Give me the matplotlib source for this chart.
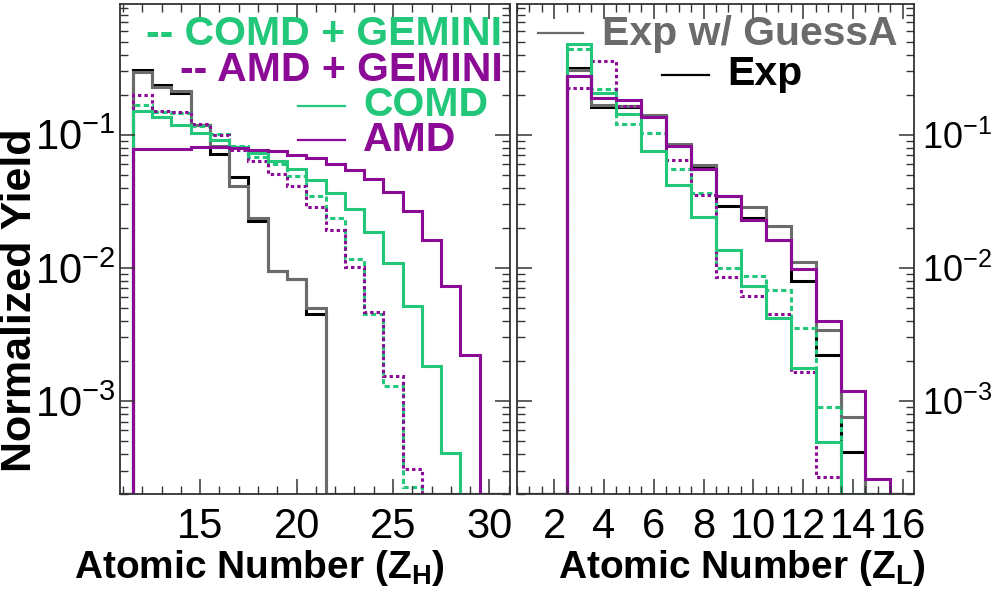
import numpy as np
import matplotlib
matplotlib.use("Agg")
import matplotlib.pyplot as plt
from matplotlib.ticker import MultipleLocator, LogLocator, NullFormatter

plt.rcParams['font.family'] = ['Liberation Sans', 'DejaVu Sans']
plt.rcParams['mathtext.fontset'] = 'custom'
plt.rcParams['mathtext.rm'] = 'Liberation Sans'
plt.rcParams['mathtext.bf'] = 'Liberation Sans:bold'
plt.rcParams['mathtext.default'] = 'regular'

# heavy fragment, Z_H = 11..31 (one bin per charge)
zh = np.arange(11, 32)
exp_h = [0, .307, .237, .205, .119, .0716, .0484, .0226, .0095, .0082, .00454,
         0, 0, 0, 0, 0, 0, 0, 0, 0, 0]
guess_h = [0, .295, .228, .213, .119, .0818, .041, .0235, .0095, .0082, .0050,
           0, 0, 0, 0, 0, 0, 0, 0, 0, 0]
comd_h = [0, .150, .135, .1175, .103, .0917, .0804, .0735, .0638, .0550, .0458,
          .0367, .0277, .0185, .0109, .0052, .00183, .00041, 0, 0, 0]
amd_h = [0, .078, .078, .078, .0815, .0815, .0795, .077, .075, .0708, .067,
         .0603, .054, .0466, .0369, .0266, .0163, .00736, .0022, 0, 0]
comd_gem_h = [0, .168, .149, .146, .117, .101, .082, .068, .0603, .0487, .0345,
              .0237, .0117, .00447, .00129, .000224, 0, 0, 0, 0, 0]
amd_gem_h = [0, .200, .151, .148, .120, .100, .0772, .063, .0507, .041, .0287,
             .0191, .0101, .00468, .00154, .000307, 0, 0, 0, 0, 0]

# light fragment, Z_L = 1..16
zl = np.arange(1, 17)
exp_l = [0, 0, .316, .161, .161, .138, .083, .0578, .0293, .0237, .0163,
         .00803, .00221, .000417, 0, 0]
guess_l = [0, 0, .307, .168, .165, .141, .085, .0588, .0344, .0287, .0205,
           .01115, .00339, .000762, 0, 0]
amd_l = [0, 0, .277, .1885, .181, .1358, .0827, .0553, .0344, .0230, .0163,
         .00983, .00402, .00118, .000258, 0]
amd_gem_l = [0, 0, .2263, .3608, .165, .137, .0649, .0350, .00856, .00612,
             .00452, .001647, .000270, 0, 0, 0]
comd_l = [0, 0, .4817, .2076, .1437, .0759, .0422, .0240, .01372, .00736,
          .00422, .001756, .000492, 0, 0, 0]
comd_gem_l = [0, 0, .4417, .2214, .1203, .103, .0556, .0365, .0100, .00875,
              .00687, .00355, .000906, 0, 0, 0]

GREEN = '#22c77a'
PURPLE = '#8b0a96'
GRAY = '#6b6b6b'
YMIN, YMAX = 2.0e-4, 0.96

fig = plt.figure(figsize=(10, 5.95), dpi=100)
axL = fig.add_axes([0.120, 1 - 494 / 595, 0.390, 490 / 595])
axR = fig.add_axes([0.5167, 1 - 494 / 595, 0.3973, 490 / 595])


def hist(ax, z, vals, color, ls='-', lw=2.2):
    edges = np.append(z - 0.5, z[-1] + 0.5)
    v = np.maximum(np.asarray(vals, float), YMIN)   # empty bins sit on the floor
    ax.stairs(v, edges, baseline=None, color=color, linestyle=ls, linewidth=lw)


dash_g = (0, (1.7, 1.1))
dash_p = (0, (1.1, 1.0))

for ax, z, data in [
        (axL, zh, (amd_h, comd_h, comd_gem_h, amd_gem_h, guess_h, exp_h)),
        (axR, zl, (amd_l, comd_l, comd_gem_l, amd_gem_l, guess_l, exp_l))]:
    amd, comd, cg, ag, gs, ex = data
    hist(ax, z, ex, 'black')
    hist(ax, z, gs, GRAY)
    hist(ax, z, cg, GREEN, dash_g)
    hist(ax, z, ag, PURPLE, dash_p)
    hist(ax, z, comd, GREEN)
    hist(ax, z, amd, PURPLE)

for ax in (axL, axR):
    ax.set_yscale('log')
    ax.set_ylim(YMIN, YMAX)
    ax.yaxis.set_major_locator(LogLocator(base=10))
    ax.yaxis.set_minor_locator(LogLocator(base=10, subs=np.arange(2, 10)))
    ax.yaxis.set_minor_formatter(NullFormatter())
    ax.tick_params(which='both', direction='in', top=True, right=True,
                   labelsize=30, color='#333333')
    ax.tick_params(which='major', length=11, width=1.1)
    ax.tick_params(which='minor', length=6, width=1.0)
    ax.tick_params(axis='x', pad=9)
    for s in ax.spines.values():
        s.set_linewidth(1.3)
        s.set_color('#333333')

axL.set_xlim(10.84, 31.07)
axL.xaxis.set_major_locator(MultipleLocator(5))
axL.xaxis.set_minor_locator(MultipleLocator(1))
axL.tick_params(axis='y', pad=3)

axR.set_xlim(0.5, 16.45)
axR.xaxis.set_major_locator(MultipleLocator(2))
axR.xaxis.set_minor_locator(MultipleLocator(0.5))
axR.tick_params(axis='y', labelleft=False, labelright=True, pad=6, labelsize=26)

# legend entries written as coloured text
lfs = 29.5
axL.text(0.979, 0.916, '-- COMD + GEMINI', transform=axL.transAxes, ha='right',
         va='baseline', fontsize=lfs, fontweight='bold', color=GREEN)
axL.text(0.982, 0.843, '-- AMD + GEMINI', transform=axL.transAxes, ha='right',
         va='baseline', fontsize=lfs, fontweight='bold', color=PURPLE)
axL.text(0.623, 0.771, 'COMD', transform=axL.transAxes, ha='left',
         va='baseline', fontsize=lfs, fontweight='bold', color=GREEN)
axL.text(0.623, 0.700, 'AMD', transform=axL.transAxes, ha='left',
         va='baseline', fontsize=lfs, fontweight='bold', color=PURPLE)
axL.plot([0.456, 0.577], [0.792, 0.792], transform=axL.transAxes, color=GREEN, lw=1.6)
axL.plot([0.456, 0.577], [0.722, 0.722], transform=axL.transAxes, color=PURPLE, lw=1.6)

axR.text(0.2147, 0.916, 'Exp w/ GuessA', transform=axR.transAxes, ha='left',
         va='baseline', fontsize=lfs, fontweight='bold', color=GRAY)
axR.text(0.529, 0.835, 'Exp', transform=axR.transAxes, ha='left',
         va='baseline', fontsize=lfs, fontweight='bold', color='black')
axR.plot([0.054, 0.167], [0.941, 0.941], transform=axR.transAxes, color=GRAY, lw=1.6)
axR.plot([0.366, 0.484], [0.855, 0.855], transform=axR.transAxes, color='black', lw=1.6)

fig.text(0.020, 0.496, 'Normalized Yield', rotation=90, ha='center', va='center',
         fontsize=31, fontweight='bold')
fig.text(0.259, 1 - 568 / 595, r'Atomic Number (Z$_\mathbf{H}$)', ha='center',
         va='center', fontsize=28, fontweight='bold')
fig.text(0.7415, 1 - 568 / 595, r'Atomic Number (Z$_\mathbf{L}$)', ha='center',
         va='center', fontsize=28, fontweight='bold')

fig.savefig('out.png', dpi=100)
